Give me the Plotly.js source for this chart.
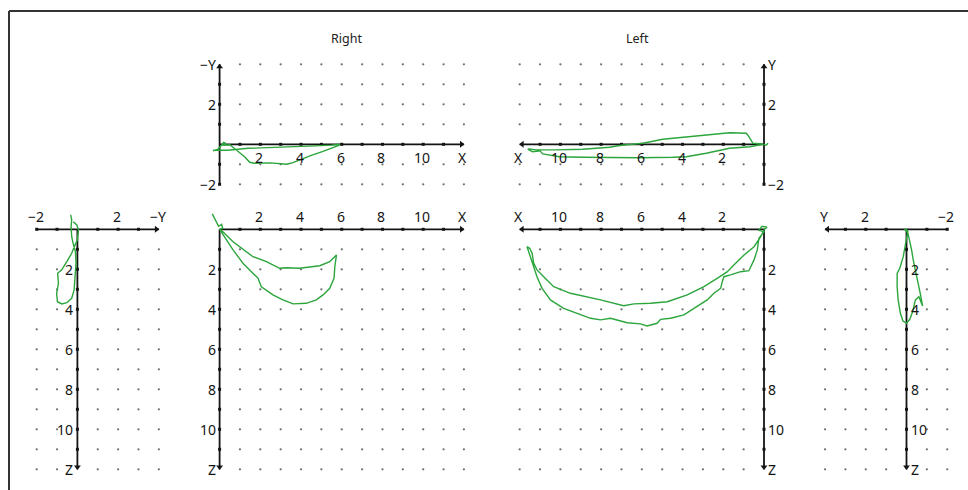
<!DOCTYPE html>
<html><head><meta charset="utf-8">
<script src="https://cdn.plot.ly/plotly-3.0.1.min.js"></script>
<style>html,body{margin:0;padding:0;background:#fff;}#chart{width:968px;height:490px;}</style>
</head><body><div id="chart"></div>
<script>
// ---------- data (panel coordinates as labelled on each panel) ----------
// Right: X horizontal, -Y vertical (up)
const rightXY = [[-0.33,-0.32],[-0.1,-0.26],[0.05,-0.1],[0.2,0.1],[0.3,0.05],[0.15,-0.05],[0.5,-0.02],[0.82,-0.3],[1.23,-0.62],[1.48,-0.9],[1.7,-0.95],[2.5,-0.93],[3.0,-0.97],[3.3,-1.0],[3.6,-0.92],[3.93,-0.78],[4.5,-0.55],[5.08,-0.35],[5.5,-0.2],[5.85,-0.05],[5.9,0.0],[5.5,-0.04],[4.7,-0.08],[4.0,-0.1],[3.0,-0.12],[2.0,-0.15],[1.4,-0.2],[0.9,-0.25],[0.4,-0.3],[0,-0.3],[-0.3,-0.3]];
// Right: X horizontal, Z vertical (down)
const rightXZ = [[-0.36,-0.77],[-0.2,-0.45],[-0.05,-0.15],[0.1,-0.25],[0.15,-0.05],[0,0],[0.16,0.12],[0.66,0.62],[0.98,0.87],[1.64,1.37],[2.3,1.62],[2.95,1.95],[3.28,1.92],[3.93,1.95],[4.92,1.82],[5.41,1.62],[5.74,1.28],[5.66,1.87],[5.62,2.45],[5.41,2.95],[5.08,3.28],[4.75,3.53],[4.26,3.7],[3.61,3.73],[3.11,3.53],[2.62,3.28],[2.05,2.87],[1.89,2.45],[1.56,2.12],[1.15,1.7],[0.66,1.03],[0.33,0.53],[0.08,0.12],[0,0]];
// Right: -Y horizontal (right), Z vertical (down)
const rightYZ = [[-0.33,-0.72],[-0.28,-0.47],[-0.31,-0.13],[-0.28,0.37],[-0.2,0.75],[-0.1,1.1],[-0.07,1.7],[-0.11,2.37],[-0.16,3.03],[-0.28,3.45],[-0.52,3.67],[-0.77,3.73],[-0.98,3.62],[-1.02,3.2],[-0.93,2.7],[-0.97,2.2],[-0.77,2.03],[-0.52,1.62],[-0.28,1.2],[-0.11,0.78],[0,0.53],[0.05,0.03],[-0.03,-0.22],[-0.2,-0.38]];
// Left: X horizontal (left), Y vertical (up)
const leftXY = [[-0.2,0.05],[-0.1,-0.05],[0.1,0.02],[0.54,0.05],[0.75,0.4],[0.87,0.55],[1.69,0.58],[2.84,0.47],[3.82,0.35],[4.97,0.25],[5.95,0.05],[7.0,-0.05],[7.59,-0.15],[8.9,-0.25],[10.2,-0.28],[11.2,-0.28],[11.52,-0.23],[11.6,-0.25],[11.36,-0.37],[11.0,-0.33],[10.87,-0.48],[10.05,-0.62],[8.9,-0.65],[7.26,-0.67],[6.11,-0.67],[4.48,-0.65],[3.82,-0.62],[2.84,-0.45],[1.69,-0.2],[0.7,-0.12],[0.05,0]];
// Left: X horizontal (left), Z vertical (down)
const leftXZ = [[0,0],[-0.15,-0.1],[0.1,-0.15],[0.25,0.05],[0,0.12],[0.25,0.45],[0.33,1.03],[0.49,1.53],[0.74,2.07],[1.15,2.12],[1.64,2.28],[1.97,2.37],[2.05,2.62],[2.13,2.95],[2.46,3.2],[2.79,3.53],[3.44,3.95],[3.93,4.28],[4.59,4.45],[5.08,4.5],[5.25,4.7],[5.74,4.83],[6.07,4.73],[6.72,4.67],[7.54,4.45],[8.03,4.53],[8.52,4.45],[9.18,4.2],[9.84,3.95],[10.49,3.53],[10.9,2.95],[11.15,2.37],[11.31,1.87],[11.48,1.37],[11.56,1.03],[11.64,0.87],[11.51,0.95],[11.39,1.2],[11.31,1.7],[11.15,2.03],[10.82,2.37],[10.33,2.87],[9.51,3.2],[8.52,3.4],[8.03,3.53],[6.89,3.82],[6.39,3.73],[5.57,3.7],[4.75,3.62],[3.77,3.28],[2.95,2.87],[2.3,2.45],[1.8,2.12],[1.48,1.78],[0.98,1.28],[0.49,0.87],[0.16,0.37],[0,0.03]];
// Left: Y horizontal (left), Z vertical (down)
const leftYZ = [[0.05,-0.05],[-0.07,0.12],[0,0.45],[0.05,0.78],[0.16,1.37],[0.33,1.95],[0.46,2.2],[0.46,2.87],[0.41,3.53],[0.3,4.2],[0.18,4.57],[0,4.7],[-0.16,4.5],[-0.3,4.12],[-0.44,3.53],[-0.61,3.37],[-0.79,3.83],[-0.69,3.28],[-0.56,2.7],[-0.44,2.03],[-0.33,1.53],[-0.25,1.03],[-0.16,0.62],[-0.07,0.2],[0.1,0]];

// tick labels
const xTickLabels = [2,4,6,8,10];
const zTickLabels = [2,4,6,8,10];
const yTickLabels = [2,-2];
const panelTitles = ['Right','Left'];

// ---------- layout machinery ----------
const W=968, H=490, SX=20.36, SY=20;
const GREEN='rgb(44,165,60)', INK='#141414', DOT='#707070';
const FONT='Noto Sans';
const fmt = v => v<0 ? '\u2212'+Math.abs(v) : String(v);
const range = (a,b) => { const r=[]; for(let i=a;i<=b;i++) r.push(i); return r; };
const noZero = arr => arr.filter(v=>v!==0);

const panels = [
  {ox:219.6, oy:144.3, h:[-1,12.6], v:[-2.3,4.3], hd:1, vd:1, hAx:[0,12], vAx:[-2,4],
   hLab:xTickLabels, hName:'X', vLab:yTickLabels, vName:'\u2212Y', hSide:'below', vSide:'left', data:rightXY},
  {ox:219.6, oy:229.3, h:[-1,12.6], v:[-1.1,12.4], hd:1, vd:-1, hAx:[0,12], vAx:[0,12],
   hLab:xTickLabels, hName:'X', vLab:zTickLabels, vName:'Z', hSide:'above', vSide:'left', data:rightXZ},
  {ox:77.4, oy:229.3, h:[-2.4,4.5], v:[-1.1,12.4], hd:1, vd:-1, hAx:[-2,4], vAx:[0,12],
   hLab:[-2,2], hName:'\u2212Y', vLab:zTickLabels, vName:'Z', hSide:'above', vSide:'left', data:rightYZ},
  {ox:764, oy:144.3, h:[-1,12.6], v:[-2.3,4.3], hd:-1, vd:1, hAx:[0,12], vAx:[-2,4],
   hLab:xTickLabels, hName:'X', vLab:yTickLabels, vName:'Y', hSide:'below', vSide:'right', data:leftXY},
  {ox:764, oy:229.3, h:[-1,12.6], v:[-1.1,12.4], hd:-1, vd:-1, hAx:[0,12], vAx:[0,12],
   hLab:xTickLabels, hName:'X', vLab:zTickLabels, vName:'Z', hSide:'above', vSide:'right', data:leftXZ},
  {ox:906.5, oy:229.3, h:[-2.4,4.5], v:[-1.1,12.4], hd:-1, vd:-1, hAx:[-2,4], vAx:[0,12],
   hLab:[-2,2], hName:'Y', vLab:zTickLabels, vName:'Z', hSide:'above', vSide:'right', data:leftYZ}
];

const traces=[], annotations=[], layout={
  width:W, height:H, margin:{l:0,r:0,t:0,b:0}, showlegend:false,
  paper_bgcolor:'#fff', plot_bgcolor:'rgba(0,0,0,0)',
  font:{family:FONT, color:INK}
};

panels.forEach((p,i)=>{
  const n=i+1, xa='x'+(n>1?n:''), ya='y'+(n>1?n:'');
  const left = p.hd>0 ? p.ox+SX*p.h[0] : p.ox-SX*p.h[1];
  const right = p.hd>0 ? p.ox+SX*p.h[1] : p.ox-SX*p.h[0];
  const top = p.vd>0 ? p.oy-SY*p.v[1] : p.oy+SY*p.v[0];
  const bottom = p.vd>0 ? p.oy-SY*p.v[0] : p.oy+SY*p.v[1];
  layout['xaxis'+(n>1?n:'')] = {domain:[left/W,right/W], range: p.hd>0?[p.h[0],p.h[1]]:[p.h[1],p.h[0]],
    anchor:ya, visible:false, fixedrange:true};
  layout['yaxis'+(n>1?n:'')] = {domain:[1-bottom/H,1-top/H], range: p.vd>0?[p.v[0],p.v[1]]:[p.v[1],p.v[0]],
    anchor:xa, visible:false, fixedrange:true};

  // grid dots at integer positions
  const hD = noZero(range(Math.ceil(p.hAx[0]), p.hAx[1]));
  const vD = noZero(range(Math.ceil(p.vAx[0]), p.vAx[1]));
  const dx=[], dy=[];
  hD.forEach(a=>vD.forEach(b=>{dx.push(a);dy.push(b);}));
  traces.push({type:'scatter', mode:'markers', x:dx, y:dy, xaxis:xa, yaxis:ya,
    marker:{size:2.3, color:DOT}, hoverinfo:'skip', cliponaxis:false});

  // axis lines
  traces.push({type:'scatter', mode:'lines', x:[p.hAx[0],p.hAx[1]], y:[0,0], xaxis:xa, yaxis:ya,
    line:{color:INK, width:1.8}, hoverinfo:'skip'});
  traces.push({type:'scatter', mode:'lines', x:[0,0], y:[p.vAx[0],p.vAx[1]], xaxis:xa, yaxis:ya,
    line:{color:INK, width:1.8}, hoverinfo:'skip'});
  // tick marks
  const hT = noZero(range(p.hAx[0], p.hAx[1]-1));
  const vT = noZero(range(p.vAx[0], p.vAx[1]-1));
  traces.push({type:'scatter', mode:'markers', x:hT, y:hT.map(()=>0), xaxis:xa, yaxis:ya,
    marker:{symbol:'square', size:3, color:INK}, hoverinfo:'skip', cliponaxis:false});
  traces.push({type:'scatter', mode:'markers', x:vT.map(()=>0), y:vT, xaxis:xa, yaxis:ya,
    marker:{symbol:'square', size:3, color:INK}, hoverinfo:'skip', cliponaxis:false});
  // arrowheads
  const hArrow = p.hd>0 ? 'triangle-right' : 'triangle-left';
  const vArrow = p.vd>0 ? 'triangle-up' : 'triangle-down';
  traces.push({type:'scatter', mode:'markers', x:[p.hAx[1]-0.12], y:[0], xaxis:xa, yaxis:ya,
    marker:{symbol:hArrow, size:6, color:INK}, hoverinfo:'skip', cliponaxis:false});
  traces.push({type:'scatter', mode:'markers', x:[0], y:[p.vAx[1]-0.12], xaxis:xa, yaxis:ya,
    marker:{symbol:vArrow, size:6, color:INK}, hoverinfo:'skip', cliponaxis:false});

  // curve
  traces.push({type:'scatter', mode:'lines', x:p.data.map(d=>d[0]), y:p.data.map(d=>d[1]),
    xaxis:xa, yaxis:ya, line:{color:GREEN, width:1.4, shape:'linear'}, hoverinfo:'skip'});

  // labels
  const ys = p.hSide==='below' ? -13 : 13;
  const lf = {family:FONT, size:14, color:INK};
  p.hLab.concat([p.hAx[1]]).forEach((v,k)=>{
    annotations.push({xref:xa, yref:ya, x:v, y:0, text: k<p.hLab.length?fmt(v):p.hName,
      showarrow:false, yshift:ys, xshift:-1, font:lf, xanchor:'center', yanchor:'middle'});
  });
  p.vLab.concat([p.vAx[1]]).forEach((v,k)=>{
    annotations.push({xref:xa, yref:ya, x:0, y:v, text: k<p.vLab.length?fmt(v):p.vName,
      showarrow:false, xshift: p.vSide==='left'?-2:2, font:lf,
      xanchor: p.vSide==='left'?'right':'left', yanchor:'middle'});
  });
});

// titles
annotations.push({xref:'paper', yref:'paper', x:346/W, y:1-38/H, text:panelTitles[0], showarrow:false,
  xanchor:'center', yanchor:'middle', font:{family:FONT, size:12.5, color:'#222'}});
annotations.push({xref:'paper', yref:'paper', x:637/W, y:1-38/H, text:panelTitles[1], showarrow:false,
  xanchor:'center', yanchor:'middle', font:{family:FONT, size:12.5, color:'#222'}});
layout.annotations = annotations;

// frame (top and left edges visible in the picture)
layout.shapes = [
  {type:'line', xref:'paper', yref:'paper', x0:9/W, x1:1.01, y0:1-11/H, y1:1-11/H, line:{color:'#333', width:2}},
  {type:'line', xref:'paper', yref:'paper', x0:9/W, x1:9/W, y0:-0.01, y1:1-11/H, line:{color:'#333', width:2}}
];

Plotly.newPlot('chart', traces, layout, {staticPlot:true, displayModeBar:false});
</script></body></html>
